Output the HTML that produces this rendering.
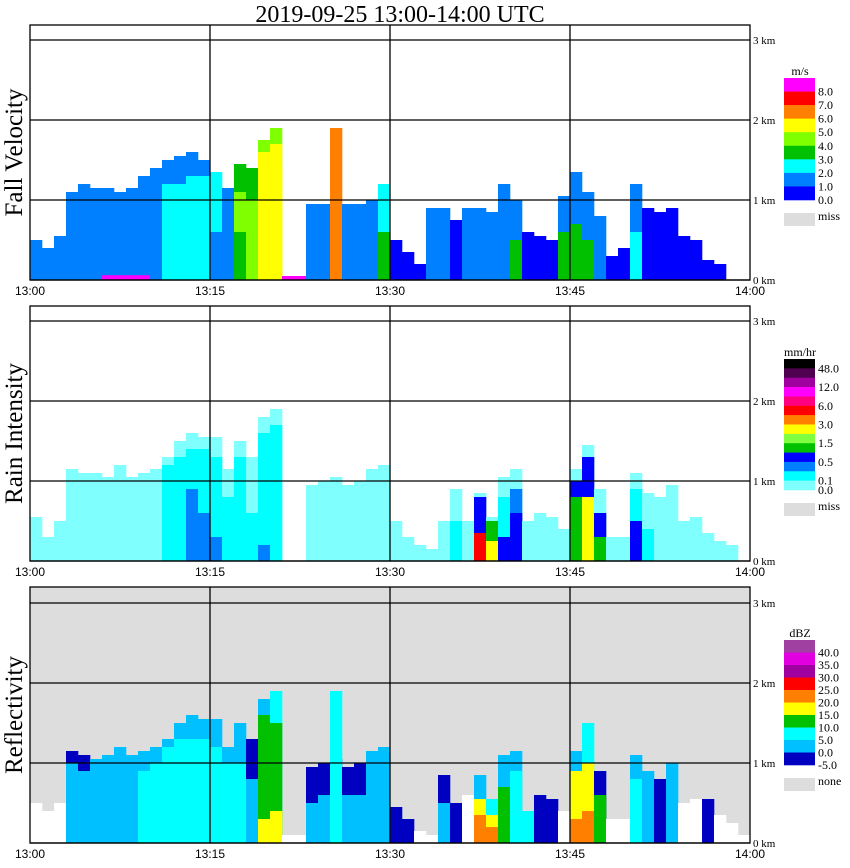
<!DOCTYPE html>
<html><head><meta charset="utf-8"><style>
body{margin:0;background:#fff;}
svg{display:block;font-family:"Liberation Sans",sans-serif;}
.t{font-family:"Liberation Serif",serif;}
</style></head><body>
<svg id="c" width="850" height="868" xmlns="http://www.w3.org/2000/svg">
<text class="t" x="400" y="22" font-size="24" text-anchor="middle">2019-09-25  13:00-14:00 UTC</text>
</svg>
<script>
// shared: 60 one-minute bins, 13:00-14:00
const timeTicks=["13:00","13:15","13:30","13:45","14:00"];
const kmTicks=["0 km","1 km","2 km","3 km"];

// Fall velocity (levels: 0 blue ... 8 magenta)
const fvTop=[0.5,0.4,0.55,1.1,1.2,1.15,1.15,1.1,1.15,1.3,1.4,1.5,1.55,1.6,1.5,1.35,1.15,1.45,1.4,1.75,1.9,0.05,0.05,0.95,0.95,0.95,0.95,0.95,1.0,1.2,0.5,0.35,0.2,0.9,0.9,0.75,0.9,0.9,0.85,1.2,1.0,0.6,0.55,0.5,1.05,1.35,1.1,0.8,0.3,0.4,1.2,0.9,0.85,0.9,0.55,0.5,0.25,0.2,0,0];
const fvMain=[1,1,1,1,1,1,1,1,1,1,1,1,1,1,1,2,1,3,3,4,4,8,8,1,1,1,1,1,1,2,0,0,0,1,1,0,1,1,1,1,1,0,0,0,1,1,1,1,0,0,1,0,0,0,0,0,0,0,0,0];
const fvCoreLvl=[0,0,0,0,0,0,0,0,0,0,0,2,2,2,2,1,0,4,4,5,5,0,0,0,0,6,0,0,0,3,0,0,0,0,0,0,0,0,0,0,3,0,0,0,3,3,3,0,0,0,2,0,0,0,0,0,0,0,0,0];
const fvCoreTop=[0,0,0,0,0,0,0,0,0,0,0,1.2,1.2,1.3,1.3,0.6,0,1.1,1.0,1.6,1.7,0,0,0,0,1.9,0,0,0,0.6,0,0,0,0,0,0,0,0,0,0,0.5,0,0,0,0.6,0.7,0.5,0,0,0,0.6,0,0,0,0,0,0,0,0,0];
const fvInLvl=[0,0,0,0,0,0,8,8,8,8,0,0,0,0,0,0,0,3,0,5,5,0,0,0,0,0,0,0,0,0,0,0,0,0,0,0,0,0,0,0,0,0,0,0,0,0,0,0,0,0,0,0,0,0,0,0,0,0,0,0];
const fvInTop=[0,0,0,0,0,0,0.06,0.06,0.06,0.06,0,0,0,0,0,0,0,0.6,0,1.3,1.4,0,0,0,0,0,0,0,0,0,0,0,0,0,0,0,0,0,0,0,0,0,0,0,0,0,0,0,0,0,0,0,0,0,0,0,0,0,0,0];

// Rain intensity (0 lightcyan,1 cyan,2 dodger,3 blue,4 green,5 lgreen,6 yellow,7 orange,8 red)
const riTop=[0.55,0.3,0.5,1.15,1.1,1.1,1.05,1.2,1.05,1.1,1.15,1.3,1.5,1.6,1.55,1.55,1.15,1.5,1.3,1.8,1.9,0,0,0.95,1.0,1.05,0.95,1.0,1.15,1.2,0.5,0.3,0.2,0.15,0.5,0.9,0.5,0.85,0.55,1.05,1.15,0.5,0.6,0.55,0.4,1.15,1.45,0.9,0.3,0.3,1.1,0.85,0.8,0.95,0.5,0.55,0.35,0.25,0.2,0];
const riMain=[0,0,0,0,0,0,0,0,0,0,0,0,0,0,0,0,0,0,0,0,0,0,0,0,0,0,0,0,0,0,0,0,0,0,0,0,0,0,0,0,0,0,0,0,0,0,0,0,0,0,0,0,0,0,0,0,0,0,0,0];
const riCoreLvl=[0,0,0,0,0,0,0,0,0,0,0,1,1,1,1,1,1,1,1,1,1,0,0,0,0,0,0,0,0,0,0,0,0,0,0,1,0,3,4,1,2,0,0,0,0,3,3,3,0,0,1,1,0,0,0,0,0,0,0,0];
const riCoreTop=[0,0,0,0,0,0,0,0,0,0,0,1.2,1.3,1.4,1.4,1.3,0.8,1.3,0.6,1.6,1.7,0,0,0,0,0,0,0,0,0,0,0,0,0,0,0.5,0,0.8,0.5,0.8,0.9,0,0,0,0,1.0,1.3,0.6,0,0,0.9,0.4,0,0,0,0,0,0,0,0];
const riInLvl=[0,0,0,0,0,0,0,0,0,0,0,0,0,2,2,2,0,0,0,2,0,0,0,0,0,0,0,0,0,0,0,0,0,0,0,0,0,8,6,3,3,0,0,0,0,4,6,4,0,0,3,0,0,0,0,0,0,0,0,0];
const riInTop=[0,0,0,0,0,0,0,0,0,0,0,0,0,0.9,0.6,0.3,0,0,0,0.2,0,0,0,0,0,0,0,0,0,0,0,0,0,0,0,0,0,0.35,0.25,0.3,0.6,0,0,0,0,0.8,0.8,0.3,0,0,0.5,0,0,0,0,0,0,0,0,0];

// Reflectivity (-1 white,0 navy,1 deepskyblue,2 cyan,3 green,4 yellow,5 orange,6 red)
const dbzTop=[0.5,0.4,0.5,1.15,1.1,1.05,1.1,1.2,1.1,1.15,1.2,1.3,1.5,1.6,1.55,1.55,1.2,1.5,1.3,1.8,1.9,0.1,0.1,0.95,1.0,1.05,0.95,1.0,1.15,1.2,0.45,0.3,0.15,0.1,0.85,0.5,0.6,0.85,0.55,1.1,1.15,0.4,0.6,0.55,0.4,1.15,1.5,0.9,0.3,0.3,1.1,0.9,0.8,1.0,0.5,0.55,0.55,0.35,0.25,0.1];
const dbzMain=[-1,-1,-1,0,0,1,1,1,1,1,1,1,1,1,1,1,1,1,0,1,2,-1,-1,0,0,0,0,0,1,1,0,0,-1,-1,0,0,-1,1,2,1,1,2,0,0,-1,1,2,0,-1,-1,1,1,0,1,-1,-1,0,-1,-1,-1];
const dbzCoreLvl=[0,0,0,1,1,0,0,0,0,2,2,2,2,2,2,2,2,2,1,3,3,0,0,1,1,2,1,1,0,0,0,0,0,0,1,0,0,4,4,3,2,0,0,0,0,4,4,3,0,0,2,0,0,0,0,0,0,0,0,0];
const dbzCoreTop=[0,0,0,1.0,0.9,0,0,0,0,0.9,1.0,1.2,1.3,1.3,1.3,1.2,1.0,1.0,0.8,1.6,1.5,0,0,0.5,0.6,1.9,0.6,0.6,0,0,0,0,0,0,0.5,0,0,0.55,0.35,0.7,0.9,0,0,0,0,0.9,1.0,0.6,0,0,0.8,0,0,0,0,0,0,0,0,0];
const dbzInLvl=[0,0,0,0,0,0,0,0,0,0,0,0,0,0,0,0,0,0,0,4,4,0,0,0,0,0,0,0,0,0,0,0,0,0,0,0,0,5,5,0,0,0,0,0,0,5,5,0,0,0,0,0,0,0,0,0,0,0,0,0];
const dbzInTop=[0,0,0,0,0,0,0,0,0,0,0,0,0,0,0,0,0,0,0,0.3,0.4,0,0,0,0,0,0,0,0,0,0,0,0,0,0,0,0,0.35,0.2,0,0,0,0,0,0,0.3,0.4,0,0,0,0,0,0,0,0,0,0,0,0,0];

const fvColors=["#0000ff","#0080ff","#00ffff","#00c000","#80ff00","#ffff00","#ff8000","#ff0000","#ff00ff"];
const riColors=["#80ffff","#00ffff","#0080ff","#0000ff","#00c000","#80ff40","#ffff00","#ff8000","#ff0000","#ff0080","#ff00ff","#a000a0","#500050","#000000"];
const dbzColors=["#0000c0","#00c0ff","#00ffff","#00c000","#ffff00","#ff8000","#ff0000","#a000a0","#e000e0","#a040a0"];

const fvLegend=["8.0","7.0","6.0","5.0","4.0","3.0","2.0","1.0","0.0"];
const riLegend=["48.0","","12.0","","6.0","","3.0","","1.5","","0.5","","0.1","0.0"];
const dbzLegend=["40.0","35.0","30.0","25.0","20.0","15.0","10.0","5.0","0.0","-5.0"];

const NS="http://www.w3.org/2000/svg";
const svg=document.getElementById('c');
function mk(tag,attrs,parent){const e=document.createElementNS(NS,tag);for(const k in attrs)e.setAttribute(k,attrs[k]);(parent||svg).appendChild(e);return e;}
const X0=30,X1=750;
function xs(m){return X0+(X1-X0)*m/60;}

const panels=[
 {name:"fall-velocity",label:"Fall Velocity",top:25,base:280,bg:"#ffffff",tops:fvTop,main:fvMain,cl:fvCoreLvl,ct:fvCoreTop,il:fvInLvl,it:fvInTop,colors:fvColors,leg:fvLegend,unit:"m/s",miss:"miss",legTop:78,legH:122},
 {name:"rain-intensity",label:"Rain Intensity",top:306,base:561,bg:"#ffffff",tops:riTop,main:riMain,cl:riCoreLvl,ct:riCoreTop,il:riInLvl,it:riInTop,colors:riColors,leg:riLegend,unit:"mm/hr",miss:"miss",legTop:359,legH:131},
 {name:"reflectivity",label:"Reflectivity",top:587,base:843,bg:"#dddddd",tops:dbzTop,main:dbzMain,cl:dbzCoreLvl,ct:dbzCoreTop,il:dbzInLvl,it:dbzInTop,colors:dbzColors,leg:dbzLegend,unit:"dBZ",miss:"none",legTop:640,legH:125}
];

panels.forEach(p=>{
 const ys=km=>p.base-80*km;
 const g=mk('g',{});
 
 
 const bg=mk('rect',{x:X0,y:p.top,width:X1-X0,height:p.base-p.top,fill:p.bg},g);
 
 
 const col=l=>l<0?"#ffffff":p.colors[l];
 for(let m=0;m<60;m++){
  const x=xs(m),w=xs(m+1)-x;
  const layers=[[p.main[m],p.tops[m]],[p.cl[m],p.ct[m]],[p.il[m],p.it[m]]];
  layers.forEach((L,k)=>{
   if(L[1]<=0)return;
   const r=mk('rect',{x:x,y:ys(L[1]),width:w+0.3,height:80*L[1],fill:col(L[0])},g);
   
   
  });
 }
 for(let k=0;k<=3;k++){mk('line',{x1:X0,x2:X1,y1:ys(k),y2:ys(k),stroke:"#000","stroke-width":1.3},g);}
 for(let k=1;k<4;k++){const x=xs(15*k);mk('line',{x1:x,x2:x,y1:p.top,y2:p.base,stroke:"#000","stroke-width":1.3},g);}
 mk('rect',{x:X0,y:p.top,width:X1-X0,height:p.base-p.top,fill:"none",stroke:"#000","stroke-width":1.3},g);
 kmTicks.forEach((t,k)=>{const e=mk('text',{x:753,y:ys(k)+4,"font-size":11,class:"t"},g);e.textContent=t;
  
  });
 timeTicks.forEach((t,k)=>{const e=mk('text',{x:xs(15*k),y:p.base+15,"font-size":12,"text-anchor":"middle"},g);e.textContent=t;
  
  });
 const ty=(p.top+p.base)/2;
 const tt=mk('text',{x:0,y:0,"font-size":25,"text-anchor":"middle",class:"t",transform:`translate(22,${ty}) rotate(-90)`},g);
 tt.textContent=p.label;
 
 
 const lg=mk('g',{},g);
 
 
 const n=p.colors.length,bh=p.legH/n;
 const u=mk('text',{x:800,y:p.legTop-3,"font-size":12,"text-anchor":"middle",class:"t"},lg);u.textContent=p.unit;
 for(let i=0;i<n;i++){
  const r=mk('rect',{x:784,y:p.legTop+i*bh,width:31,height:bh+0.3,fill:p.colors[n-1-i]},lg);
  
  
  const lab=p.leg[i];
  if(lab){const e=mk('text',{x:818,y:p.legTop+(i+1)*bh+4,"font-size":12,class:"t"},lg);e.textContent=lab;
   
   }
 }
 const mr=mk('rect',{x:784,y:p.legTop+p.legH+13,width:31,height:13,fill:"#dddddd"},lg);
 
 
 const mt=mk('text',{x:818,y:p.legTop+p.legH+20,"font-size":12,class:"t"},lg);mt.textContent=p.miss;
});
</script>
</body></html>
